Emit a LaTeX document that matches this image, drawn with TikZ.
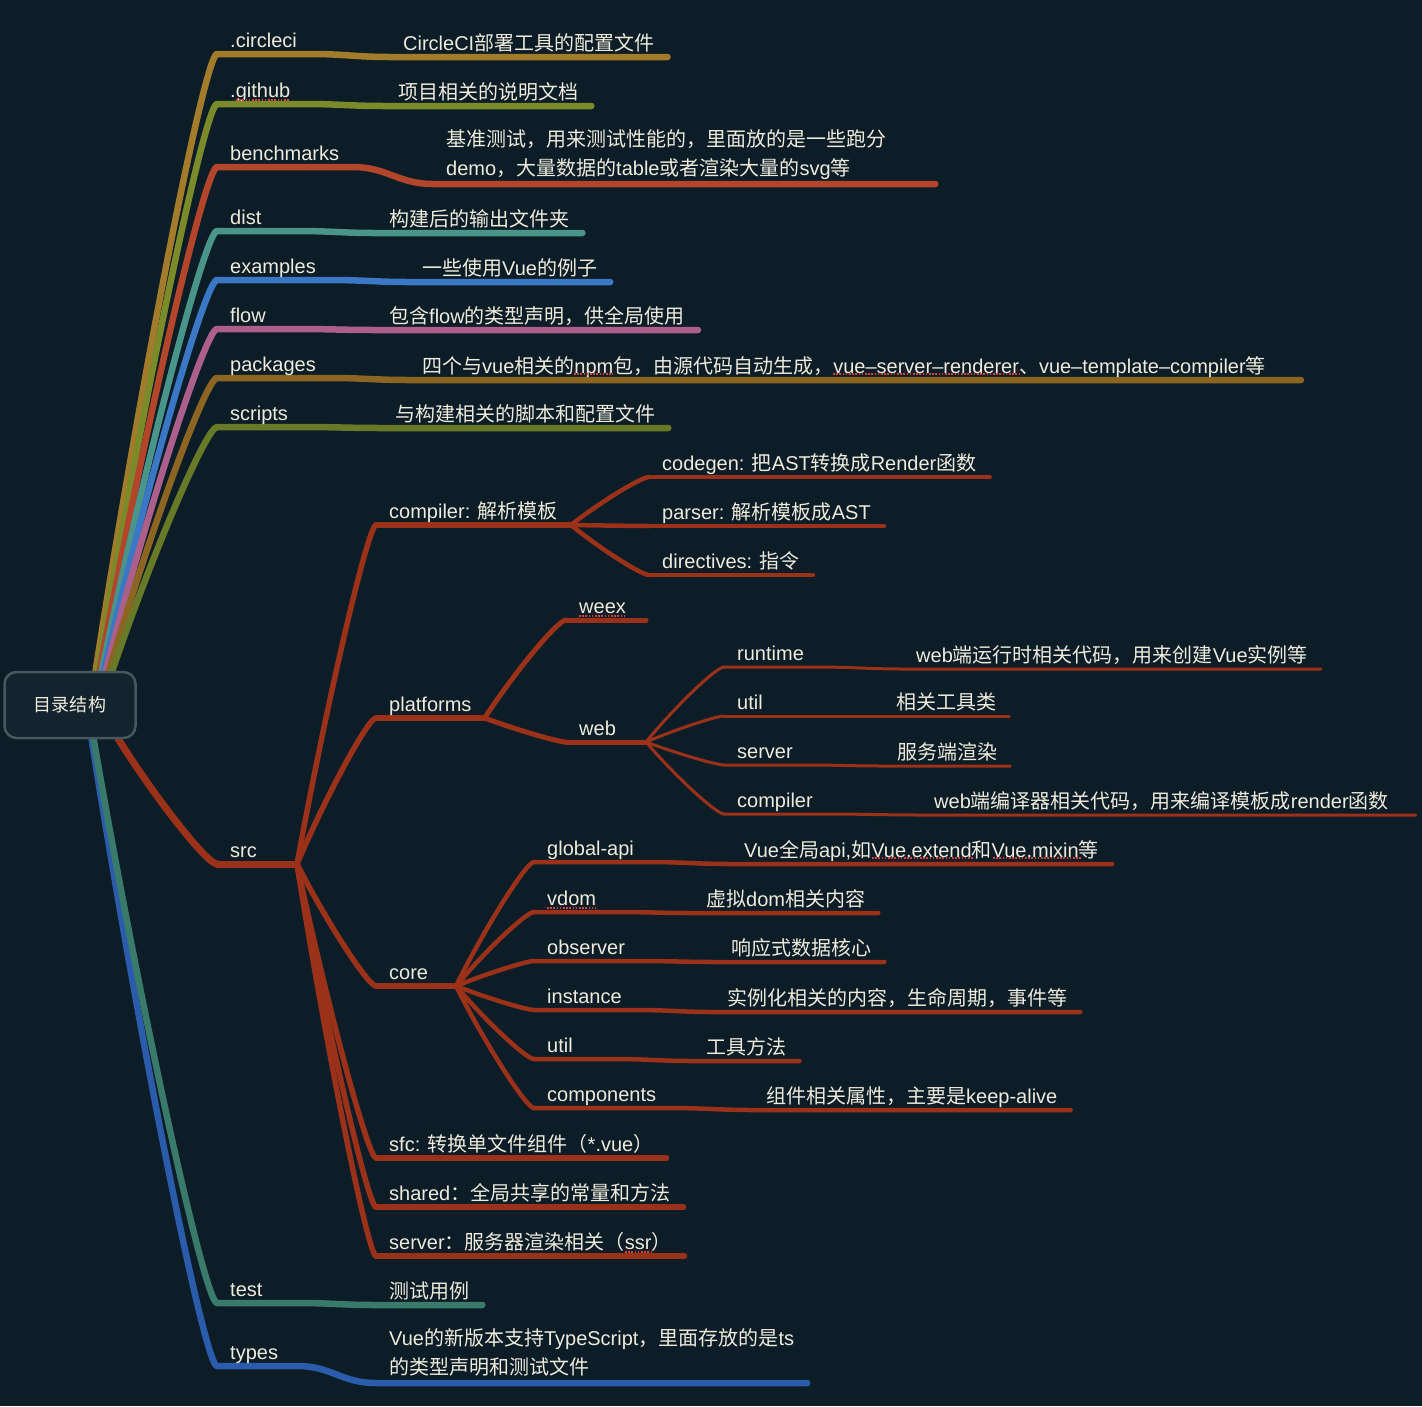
\documentclass[tikz,border=0pt]{standalone}
\usepackage{fontspec}
\setmainfont{Liberation Sans}
\newfontfamily\cjkfont{Noto Sans CJK SC}
\newcommand\zh[1]{{\cjkfont #1}}
\usetikzlibrary{calc}
\pgfdeclarelayer{bglayer}
\pgfdeclarelayer{lines}
\pgfsetlayers{bglayer,lines,main}
\definecolor{bgc}{HTML}{0C1D27}
\definecolor{txt}{HTML}{EEEBDC}
\definecolor{rootf}{HTML}{13242E}
\definecolor{rootb}{HTML}{48575F}
\definecolor{cCirc}{HTML}{A27B2B}
\definecolor{cGh}{HTML}{7C8B2A}
\definecolor{cBench}{HTML}{B3452A}
\definecolor{cDist}{HTML}{4A958A}
\definecolor{cEx}{HTML}{3A77C5}
\definecolor{cFlow}{HTML}{AD5F8B}
\definecolor{cPkg}{HTML}{8B6521}
\definecolor{cScr}{HTML}{687A28}
\definecolor{cSrc}{HTML}{9B3118}
\definecolor{cTest}{HTML}{3A7A6B}
\definecolor{cTypes}{HTML}{2B5CAC}
\definecolor{spellc}{HTML}{D6443A}
% topic node: name, text x, underline y, text (underline at least 80pt long)
\newcommand\mtopic[5][]{%
  \node[topic,#1] (#2) at ({#3-13},{#4-12}) {#5};
  \coordinate (#2-a) at ($(#2.west)+(0,12)$);
  \path let \p1=(#2.west), \p2=(#2.east) in ({max(\x2,\x1+80pt)},{\y2-12pt}) coordinate (#2-b);
}
% branch connector from a junction to a child
\newcommand\conn[3]{%
  \draw[#1] let \p1=(#2), \p2=(#3) in (\p1) .. controls +({0.37*(\x2-\x1)},{0.47*(\y2-\y1)}) and +({-0.1*(\x2-\x1)},0pt) .. (\p2);}
% underline + link to description
\newcommand\uld[4]{%
  \draw[#1] (#2-a) -- (#2-b) .. controls +(35,0) and +(-35,0) .. (#3-a) -- (#4);}
\begin{document}
\begin{tikzpicture}[x=1pt,y=-1pt,
  topic/.style={anchor=west, inner xsep=13pt, inner ysep=0pt, text height=15pt, text depth=5pt,
    text=txt, font=\fontsize{20}{24}\selectfont},
  root/.style={draw=rootb, fill=rootf, line width=2.5pt, rounded corners=12pt, minimum width=131pt,
    minimum height=66pt, inner sep=0pt, text=txt, font=\fontsize{18}{22}\selectfont},
  ln/.style={line width=#1, line cap=round, line join=round},
  spell/.style={draw=spellc, line width=1.6pt, dash pattern=on 1.6pt off 1.6pt}]

\begin{pgfonlayer}{bglayer}
\fill[bgc] (0,0) rectangle (1422,1406);
\end{pgfonlayer}
\useasboundingbox (0,0) rectangle (1422,1406);

\node[root] (root) at (70,705) {\zh{目录结构}};

% ---------- level 1 ----------
\mtopic{circ}{230}{54}{.circleci}
\mtopic{circd}{403}{57}{CircleCI\zh{部署工具的配置文件}}
\mtopic{gh}{230}{104}{.github}
\mtopic{ghd}{398}{106}{\zh{项目相关的说明文档}}
\mtopic{bench}{230}{167}{benchmarks}
\mtopic{benchdA}{446}{153}{\zh{基准测试，用来测试性能的，里面放的是一些跑分}}
\mtopic{benchdB}{446}{182}{demo\zh{，大量数据的}table\zh{或者渲染大量的}svg\zh{等}}
\mtopic{dist}{230}{231}{dist}
\mtopic{distd}{389}{233}{\zh{构建后的输出文件夹}}
\mtopic{ex}{230}{280}{examples}
\mtopic{exd}{422}{282}{\zh{一些使用}Vue\zh{的例子}}
\mtopic{flow}{230}{329}{flow}
\mtopic{flowd}{389}{330}{\zh{包含}flow\zh{的类型声明，供全局使用}}
\mtopic{pkg}{230}{378}{packages}
\mtopic{pkgd}{422}{380}{\zh{四个与}vue\zh{相关的}npm\zh{包，由源代码自动生成，}vue--server--renderer\zh{、}vue--template--compiler\zh{等}}
\mtopic{scr}{230}{427}{scripts}
\mtopic{scrd}{395}{428}{\zh{与构建相关的脚本和配置文件}}
\mtopic{src}{230}{864}{src}
\mtopic{test}{230}{1303}{test}
\mtopic{testd}{389}{1305}{\zh{测试用例}}
\mtopic{types}{230}{1366}{types}
\mtopic{typesdA}{389}{1352}{Vue\zh{的新版本支持}TypeScript\zh{，里面存放的是}ts}
\mtopic{typesdB}{389}{1381}{\zh{的类型声明和测试文件}}

% ---------- src ----------
\mtopic{compiler}{389}{525}{compiler: \zh{解析模板}}
\mtopic{platforms}{389}{718}{platforms}
\mtopic{core}{389}{986}{core}
\mtopic{sfc}{389}{1158}{sfc: \zh{转换单文件组件（}*.vue\zh{）}}
\mtopic{shared}{389}{1207}{shared\zh{：全局共享的常量和方法}}
\mtopic{server}{389}{1256}{server\zh{：服务器渲染相关（}ssr\zh{）}}

\mtopic{codegen}{662}{477}{codegen: \zh{把}AST\zh{转换成}Render\zh{函数}}
\mtopic{parser}{662}{526}{parser: \zh{解析模板成}AST}
\mtopic{directives}{662}{575}{directives: \zh{指令}}

\mtopic{weex}{579}{620}{weex}
\mtopic{web}{579}{742}{web}

\mtopic{runtime}{737}{667}{runtime}
\mtopic{runtimed}{916}{669}{web\zh{端运行时相关代码，用来创建}Vue\zh{实例等}}
\mtopic{wutil}{737}{716}{util}
\mtopic{wutild}{896}{716}{\zh{相关工具类}}
\mtopic{wserver}{737}{765}{server}
\mtopic{wserverd}{897}{766}{\zh{服务端渲染}}
\mtopic{wcomp}{737}{814}{compiler}
\mtopic{wcompd}{934}{815}{web\zh{端编译器相关代码，用来编译模板成}render\zh{函数}}

\mtopic{gapi}{547}{862}{global-api}
\mtopic{gapid}{744}{864}{Vue\zh{全局}api,\zh{如}Vue.extend\zh{和}Vue.mixin\zh{等}}
\mtopic{vdom}{547}{912}{vdom}
\mtopic{vdomd}{706}{913}{\zh{虚拟}dom\zh{相关内容}}
\mtopic{obs}{547}{961}{observer}
\mtopic{obsd}{731}{962}{\zh{响应式数据核心}}
\mtopic{inst}{547}{1010}{instance}
\mtopic{instd}{727}{1012}{\zh{实例化相关的内容，生命周期，事件等}}
\mtopic{cutil}{547}{1059}{util}
\mtopic{cutild}{706}{1061}{\zh{工具方法}}
\mtopic{comp}{547}{1108}{components}
\mtopic{compd}{766}{1110}{\zh{组件相关属性，主要是}keep-alive}

% branch start points on the central topic
\coordinate (rs1) at ($(root.north)+(25,4)$);
\coordinate (rs2) at ($(root.north)+(27,4)$);
\coordinate (rs3) at ($(root.north)+(29,4)$);
\coordinate (rs4) at ($(root.north)+(31,4)$);
\coordinate (rs5) at ($(root.north)+(33,4)$);
\coordinate (rs6) at ($(root.north)+(35,4)$);
\coordinate (rs7) at ($(root.north)+(38,4)$);
\coordinate (rs8) at ($(root.north)+(41,4)$);
\coordinate (rsSrc) at ($(root.south)+(46,-4)$);
\coordinate (rsTest) at ($(root.south)+(23,-4)$);
\coordinate (rsTypes) at ($(root.south)+(21,-4)$);
\coordinate (benchd-a) at ($(benchdB.west)+(0,14)$);
\coordinate (benchd-b) at ($(benchdA.east)+(36,0)$);
\coordinate (typesd-a) at ($(typesdB.west)+(0,14)$);
\coordinate (typesd-b) at ($(typesdA.east)+(0,0)$);
\coordinate (pkgd-e) at ($(pkgd-b)+(22,0)$);
\coordinate (wcompd-e) at ($(wcompd-b)+(14,0)$);

\begin{pgfonlayer}{lines}
% level 1
\conn{ln=6.5pt,draw=cCirc}{rs1}{circ-a}
\uld{ln=6.5pt,draw=cCirc}{circ}{circd}{circd-b}
\conn{ln=6.5pt,draw=cGh}{rs2}{gh-a}
\uld{ln=6.5pt,draw=cGh}{gh}{ghd}{ghd-b}
\conn{ln=6.5pt,draw=cBench}{rs3}{bench-a}
\uld{ln=6.5pt,draw=cBench}{bench}{benchd}{benchd-b |- benchd-a}
\conn{ln=6.5pt,draw=cDist}{rs4}{dist-a}
\uld{ln=6.5pt,draw=cDist}{dist}{distd}{distd-b}
\conn{ln=6.5pt,draw=cEx}{rs5}{ex-a}
\uld{ln=6.5pt,draw=cEx}{ex}{exd}{exd-b}
\conn{ln=6.5pt,draw=cFlow}{rs6}{flow-a}
\uld{ln=6.5pt,draw=cFlow}{flow}{flowd}{flowd-b}
\conn{ln=6.5pt,draw=cPkg}{rs7}{pkg-a}
\uld{ln=6.5pt,draw=cPkg}{pkg}{pkgd}{pkgd-e}
\conn{ln=6.5pt,draw=cScr}{rs8}{scr-a}
\uld{ln=6.5pt,draw=cScr}{scr}{scrd}{scrd-b}
\conn{ln=6.5pt,draw=cTypes}{rsTypes}{types-a}
\uld{ln=6.5pt,draw=cTypes}{types}{typesd}{typesd-b |- typesd-a}
\conn{ln=6.5pt,draw=cTest}{rsTest}{test-a}
\uld{ln=6.5pt,draw=cTest}{test}{testd}{testd-b}
\conn{ln=7pt,draw=cSrc}{rsSrc}{src-a}
\draw[ln=7pt,draw=cSrc] (src-a) -- (src-b);
% src children
\foreach \nm in {compiler,platforms,core,sfc,shared,server}{
  \conn{ln=5.5pt,draw=cSrc}{src-b}{\nm-a}
  \draw[ln=5.5pt,draw=cSrc] (\nm-a) -- (\nm-b);
}
\foreach \nm in {codegen,parser,directives}{
  \conn{ln=4.5pt,draw=cSrc}{compiler-b}{\nm-a}
  \draw[ln=4.5pt,draw=cSrc] (\nm-a) -- (\nm-b);
}
\foreach \nm in {weex,web}{
  \conn{ln=5pt,draw=cSrc}{platforms-b}{\nm-a}
  \draw[ln=5pt,draw=cSrc] (\nm-a) -- (\nm-b);
}
\foreach \nm in {runtime,wutil,wserver}{
  \conn{ln=3pt,draw=cSrc}{web-b}{\nm-a}
  \uld{ln=3pt,draw=cSrc}{\nm}{\nm d}{\nm d-b}
}
\conn{ln=3pt,draw=cSrc}{web-b}{wcomp-a}
\uld{ln=3pt,draw=cSrc}{wcomp}{wcompd}{wcompd-e}
\foreach \nm in {gapi,vdom,obs,inst,cutil,comp}{
  \conn{ln=4.5pt,draw=cSrc}{core-b}{\nm-a}
  \uld{ln=4.5pt,draw=cSrc}{\nm}{\nm d}{\nm d-b}
}
\end{pgfonlayer}

% spell-check marks
\draw[spell] (236,100) -- (290,100);
\draw[spell] (579,616) -- (626,616);
\draw[spell] (574,374) -- (613,374);
\draw[spell] (833,374) -- (1019,374);
\draw[spell] (547,908) -- (596,908);
\draw[spell] (872,858) -- (973,858);
\draw[spell] (993,858) -- (1081,858);
\draw[spell] (625,1252) -- (651,1252);
\end{tikzpicture}
\end{document}
